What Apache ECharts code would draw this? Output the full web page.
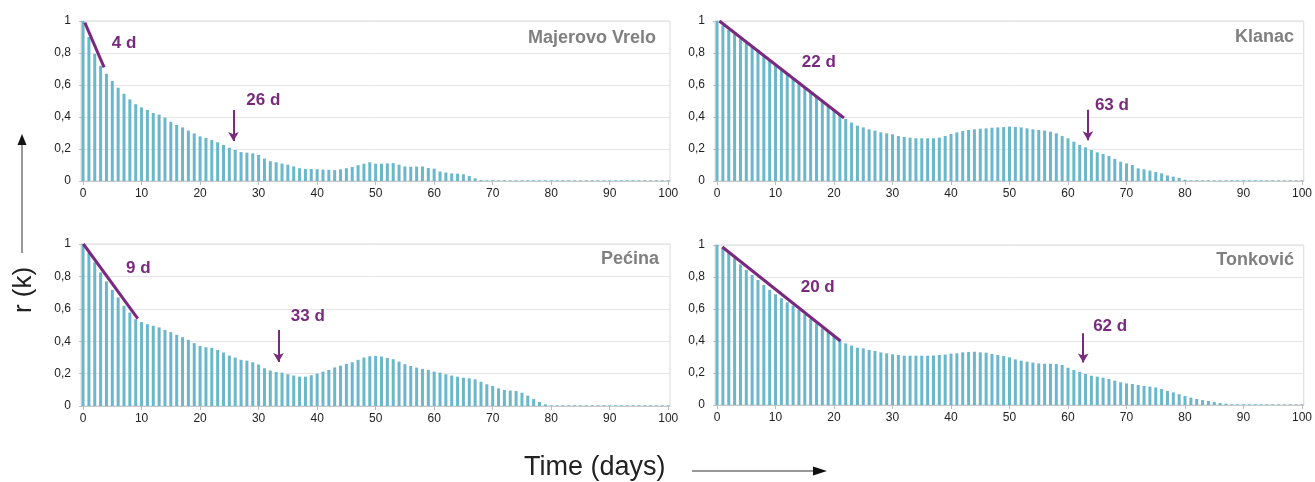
<!DOCTYPE html>
<html>
<head>
<meta charset="utf-8">
<script src="https://cdn.jsdelivr.net/npm/echarts@6/dist/echarts.min.js"></script>
<style>
html,body{margin:0;padding:0;background:#fff;}
#c{width:1315px;height:482px;}
</style>
</head>
<body>
<div id="c"></div>
<script>
// ---- data ----
const xTicks = [0,10,20,30,40,50,60,70,80,90,100];
const yTicks = [0,0.2,0.4,0.6,0.8,1];
const panelNames = ['Majerovo Vrelo','Klanac','Pećina','Tonković'];

const majerovo = [
 1.0,0.9,0.795,0.72,0.67,0.625,0.583,0.545,0.51,0.48,
 0.46,0.444,0.425,0.415,0.396,0.37,0.35,0.335,0.315,0.297,
 0.279,0.269,0.256,0.242,0.225,0.208,0.194,0.181,0.177,0.173,
 0.163,0.14,0.124,0.117,0.109,0.102,0.091,0.08,0.076,0.075,
 0.074,0.071,0.07,0.068,0.073,0.08,0.088,0.099,0.108,0.117,
 0.108,0.108,0.11,0.112,0.102,0.091,0.089,0.09,0.091,0.081,
 0.077,0.059,0.053,0.048,0.046,0.042,0.031,0.017,0.006,0.004,
 0.004,0.004,0.004,0.004,0.004,0.004,0.004,0.004,0.004,0.004,
 0.004,0.004,0.004,0.004,0.004,0.004,0.004,0.004,0.004,0.004,
 0.004,0.004,0.004,0.004,0.004,0.004,0.004,0.004,0.004,0.004,0.004
];
const klanac = [
 1.0,0.972,0.945,0.918,0.89,0.864,0.84,0.815,0.785,0.752,
 0.722,0.695,0.665,0.638,0.61,0.585,0.555,0.528,0.503,0.476,
 0.446,0.42,0.388,0.365,0.346,0.335,0.323,0.315,0.304,0.298,
 0.292,0.281,0.275,0.271,0.267,0.267,0.267,0.267,0.271,0.281,
 0.294,0.304,0.312,0.319,0.323,0.327,0.329,0.333,0.335,0.337,
 0.34,0.338,0.335,0.329,0.323,0.319,0.315,0.308,0.298,0.281,
 0.267,0.246,0.225,0.21,0.194,0.179,0.169,0.156,0.138,0.121,
 0.11,0.1,0.079,0.073,0.065,0.056,0.048,0.035,0.027,0.019,
 0.008,0.004,0.004,0.004,0.004,0.004,0.004,0.004,0.004,0.004,
 0.004,0.004,0.004,0.004,0.004,0.004,0.004,0.004,0.004,0.004,0.004
];
const pecina = [
 1.0,0.945,0.887,0.825,0.769,0.717,0.67,0.619,0.577,0.536,
 0.518,0.505,0.495,0.485,0.47,0.456,0.439,0.425,0.408,0.388,
 0.371,0.363,0.359,0.346,0.33,0.311,0.299,0.285,0.28,0.27,
 0.256,0.233,0.219,0.21,0.206,0.196,0.188,0.181,0.181,0.19,
 0.2,0.212,0.223,0.238,0.249,0.26,0.27,0.285,0.299,0.307,
 0.309,0.305,0.297,0.289,0.274,0.258,0.247,0.237,0.229,0.223,
 0.212,0.206,0.196,0.188,0.181,0.175,0.171,0.165,0.15,0.134,
 0.124,0.109,0.099,0.095,0.093,0.082,0.064,0.043,0.025,0.01,
 0.004,0.004,0.004,0.004,0.004,0.004,0.004,0.004,0.004,0.004,
 0.004,0.004,0.004,0.004,0.004,0.004,0.004,0.004,0.004,0.004,0.004
];
const tonkovic = [
 1.0,0.983,0.954,0.917,0.879,0.844,0.8125,0.781,0.75,0.719,
 0.692,0.667,0.642,0.621,0.594,0.567,0.538,0.51,0.479,0.4625,
 0.431,0.406,0.385,0.371,0.358,0.354,0.344,0.338,0.329,0.323,
 0.317,0.3125,0.308,0.308,0.308,0.308,0.308,0.31,0.3125,0.315,
 0.321,0.323,0.329,0.331,0.333,0.329,0.327,0.319,0.3125,0.306,
 0.298,0.285,0.277,0.271,0.265,0.26,0.258,0.258,0.256,0.25,
 0.233,0.219,0.208,0.194,0.183,0.177,0.171,0.1625,0.152,0.142,
 0.135,0.131,0.125,0.119,0.115,0.11,0.1,0.0875,0.079,0.067,
 0.056,0.046,0.0375,0.031,0.025,0.019,0.0125,0.008,0.004,0.004,
 0.004,0.004,0.004,0.004,0.004,0.004,0.004,0.004,0.004,0.004,0.004
];

// annotations (data coordinates): slope line, arrow, labels
const slopeLines = [
 [[0.3,0.99],[3.6,0.71]],
 [[0.4,1.0],[21.7,0.394]],
 [[0.05,1.0],[9.35,0.54]],
 [[0.9,0.9875],[21.1,0.4]]
];
const arrows = [
 [[25.7,0.444],[25.7,0.25]],
 [[63.4,0.445],[63.4,0.255]],
 [[33.4,0.469],[33.4,0.272]],
 [[62.6,0.448],[62.6,0.266]]
];
const labels = [
 [[4.9,0.86,'4 d'],[27.9,0.506,'26 d']],
 [[14.5,0.74,'22 d'],[64.6,0.475,'63 d']],
 [[7.35,0.853,'9 d'],[35.5,0.556,'33 d']],
 [[14.3,0.733,'20 d'],[64.3,0.49,'62 d']]
];

const seriesValues = [majerovo, klanac, pecina, tonkovic];

// ---- layout / style ----
const FONT = '"Liberation Sans", Arial, sans-serif';
const PURPLE = '#7a2a7e';
const grids = [
 {left:81, top:21, width:589, height:160},
 {left:715, top:21, width:589, height:160},
 {left:81, top:244, width:589, height:162},
 {left:715, top:245, width:589, height:160}
];
const titlePos = [
 {right:1315-656, top:29},
 {right:1315-1294, top:28},
 {right:1315-659, top:250},
 {right:1315-1294, top:251}
];

const chart = echarts.init(document.getElementById('c'), null, {renderer:'canvas'});

const xAxes = [], yAxes = [], series = [], titles = [];
for (let i = 0; i < 4; i++) {
  xAxes.push({
    type:'value', gridIndex:i, min:-0.35, max:100.3,
    axisLine:{show:true, onZero:false, lineStyle:{color:'#c8c8c8', width:1}},
    axisTick:{show:true, length:4, inside:false, customValues:xTicks, lineStyle:{color:'#bdbdbd'}},
    axisLabel:{show:true, customValues:xTicks, color:'#222', fontSize:12, fontFamily:FONT, margin:7},
    splitLine:{show:false}
  });
  yAxes.push({
    type:'value', gridIndex:i, min:0, max:1, interval:0.2,
    axisLine:{show:true, lineStyle:{color:'#c8c8c8', width:1}},
    axisTick:{show:true, length:4, lineStyle:{color:'#bdbdbd'}},
    axisLabel:{color:'#222', fontSize:12, fontFamily:FONT, margin:10,
      formatter:function(v){ if (Math.abs(v) < 1e-9) return '0'; if (Math.abs(v-1) < 1e-9) return '1'; return v.toFixed(1).replace('.',','); }},
    splitLine:{show:true, lineStyle:{color:'#e6e6e6', width:1}}
  });
  const vals = seriesValues[i];
  series.push({
    type:'bar', xAxisIndex:i, yAxisIndex:i, barWidth:3, silent:true, animation:false,
    clip:false,
    itemStyle:{color:new echarts.graphic.LinearGradient(0,0,1,0,[
      {offset:0,color:'#52c4c8'},{offset:1,color:'#84a9d3'}])},
    data: vals.map((v,d)=>[d,v]),
    markLine:{
      silent:true, animation:false,
      label:{show:false},
      emphasis:{disabled:true},
      data:[
        [{coord:slopeLines[i][0], symbol:'none', lineStyle:{color:PURPLE, width:3, type:'solid'}},
         {coord:slopeLines[i][1], symbol:'none'}],
        [{coord:arrows[i][0], symbol:'none', lineStyle:{color:PURPLE, width:2, type:'solid'}},
         {coord:arrows[i][1], symbol:'arrow', symbolSize:[8,9]}]
      ]
    }
  });
  series.push({
    type:'scatter', xAxisIndex:i, yAxisIndex:i, symbolSize:0, silent:true, animation:false,
    itemStyle:{opacity:1},
    data: labels[i],
    label:{show:true, position:'right', distance:0, formatter:p=>p.data[2], opacity:1,
      color:PURPLE, fontSize:17, fontWeight:'bold', fontFamily:FONT}
  });
  titles.push({
    text: panelNames[i], right:titlePos[i].right, top:titlePos[i].top, padding:0,
    textStyle:{color:'#808080', fontSize:18, fontWeight:'bold', fontFamily:FONT}
  });
}

chart.setOption({
  animation:false,
  backgroundColor:'#fff',
  title: titles,
  grid: grids.map(g=>Object.assign({show:true, borderColor:'#d9d9d9', borderWidth:1, backgroundColor:'transparent'}, g)),
  xAxis: xAxes,
  yAxis: yAxes,
  series: series,
  graphic: [
    {type:'text', x:24, y:290, rotation:Math.PI/2, style:{text:'r (k)', fill:'#222', font:'26px '+FONT, textAlign:'center', textVerticalAlign:'middle'}},
    {type:'line', shape:{x1:22, y1:253, x2:22, y2:143}, style:{stroke:'#333', lineWidth:1}},
    {type:'polygon', shape:{points:[[22,134],[17.5,145],[26.5,145]]}, style:{fill:'#111'}},
    {type:'text', x:524, y:468, style:{text:'Time (days)', fill:'#222', font:'27px '+FONT, textAlign:'left', textVerticalAlign:'middle'}},
    {type:'line', shape:{x1:692, y1:471, x2:815, y2:471}, style:{stroke:'#333', lineWidth:1}},
    {type:'polygon', shape:{points:[[827,471],[813,466.5],[813,475.5]]}, style:{fill:'#111'}}
  ]
});
</script>
</body>
</html>
